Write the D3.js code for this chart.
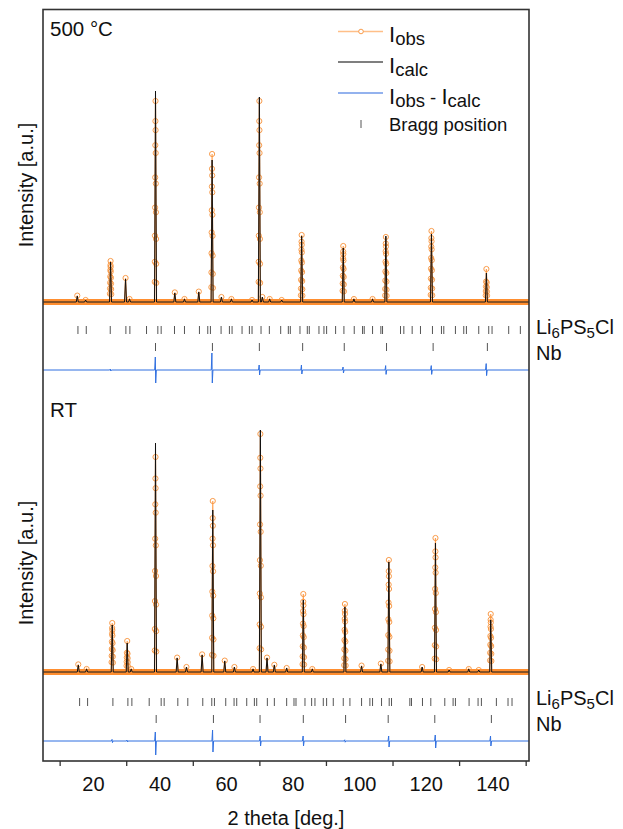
<!DOCTYPE html>
<html>
<head>
<meta http-equiv='Content-Type' content='text/html;charset=utf-8'/>
<title>Rietveld refinement</title>
<script src='https://cdn.jsdelivr.net/npm/d3@7/dist/d3.min.js'></script>
<style>
  body { margin: 0; background: #fff; }
  text { font-family: 'Liberation Sans', Arial, sans-serif; fill: #111; }
</style>
</head>
<body>
<script>
'use strict';

// x axis
const xTicks = [20, 40, 60, 80, 100, 120, 140];
const xMinorTicks = [10, 30, 50, 70, 90, 110, 130, 150];

// 500 °C : peak positions (2 theta), calculated and observed heights (a.u.)
const peaks500 = [15.3, 17.8, 25.3, 29.8, 31.0, 38.8, 44.6, 47.5, 51.8, 55.8, 58.6, 61.6, 67.8, 70.0, 70.9, 73.1, 76.7, 82.7, 95.2, 98.4, 104.0, 108.0, 121.7, 138.2];
const calc500  = [30, 10, 200, 115, 15, 1055, 45, 15, 50, 710, 25, 15, 10, 1025, 25, 15, 10, 330, 270, 15, 15, 330, 340, 145];
const obs500   = [32, 10, 205, 120, 15, 1005, 48, 15, 52, 740, 25, 15, 10, 1005, 25, 15, 10, 335, 280, 15, 15, 325, 355, 165];
const bragg500Li = [15.5, 18.0, 25.2, 29.9, 31.1, 36.1, 39.5, 40.5, 44.5, 47.5, 52.0, 54.5, 55.3, 58.5, 61.0, 61.8, 64.8, 67.0, 67.8, 70.5, 73.0, 76.4, 78.7, 79.3, 82.2, 84.4, 85.0, 87.9, 89.4, 90.2, 92.9, 95.4, 98.5, 101.0, 101.5, 104.0, 106.5, 107.0, 112.4, 113.4, 115.9, 118.4, 122.0, 124.7, 125.4, 128.9, 131.4, 132.2, 135.9, 138.9, 139.9, 144.9, 148.4];
const bragg500Nb = [38.8, 55.9, 70.0, 83.0, 95.5, 108.2, 122.2, 138.5];
const diff500Pos  = [25.3, 38.8, 55.8, 70.0, 82.7, 95.2, 108.0, 121.7, 138.2];
const diff500Up   = [5, 65, 85, 25, 25, 15, 22, 22, 32];
const diff500Down = [5, 65, 65, 25, 20, 15, 22, 22, 28];

// RT
const peaksRT = [15.6, 18.1, 25.8, 30.3, 31.5, 38.8, 45.3, 48.1, 52.8, 56.0, 59.6, 62.5, 68.1, 70.3, 72.3, 74.5, 78.2, 83.2, 85.9, 95.7, 100.7, 106.5, 108.9, 118.9, 122.9, 127.0, 132.9, 135.9, 139.5];
const calcRT  = [35, 15, 235, 145, 15, 1145, 70, 25, 85, 810, 55, 25, 15, 1210, 70, 35, 20, 360, 15, 325, 30, 40, 550, 25, 645, 10, 15, 10, 260];
const obsRT   = [38, 15, 245, 155, 15, 1075, 72, 25, 88, 855, 57, 25, 15, 1190, 72, 36, 20, 390, 15, 340, 32, 42, 560, 25, 670, 10, 15, 10, 290];
const braggRTLi = [16.0, 18.4, 26.0, 30.5, 31.7, 36.9, 40.5, 41.4, 45.5, 48.5, 53.0, 55.7, 56.5, 59.9, 62.4, 63.2, 66.2, 68.5, 69.2, 72.4, 74.5, 78.2, 80.4, 81.0, 83.7, 85.7, 86.7, 89.2, 90.2, 92.2, 95.2, 97.2, 100.7, 103.2, 104.0, 106.7, 109.0, 109.7, 115.2, 115.7, 119.0, 121.5, 125.7, 128.2, 128.9, 133.0, 135.7, 136.7, 141.2, 144.7, 145.9];
const braggRTNb = [39.0, 56.2, 70.2, 83.2, 95.9, 108.7, 122.7, 139.7];
const diffRTPos  = [25.8, 30.3, 38.8, 56.0, 70.3, 83.2, 95.7, 108.9, 122.9, 139.5];
const diffRTUp   = [8, 5, 45, 55, 25, 25, 6, 25, 30, 25];
const diffRTDown = [8, 5, 70, 55, 25, 25, 6, 30, 35, 25];

const legendLabels = [['I', 'obs'], ['I', 'calc'], ['I', 'obs', ' - ', 'I', 'calc'], ['Bragg position']];

const W = 623, H = 829;
const frame = {left: 43, right: 529, top: 9.5, bottom: 761};
const k = 0.2;            // px per intensity unit
const braggLen = 8;
const fs = 20;            // main font size

const svg = d3.select('body').append('svg')
  .attr('width', W).attr('height', H);

const x = d3.scaleLinear().domain([5, 151]).range([frame.left, frame.right]);

const panels = [
  {name: '500 °C', top: frame.top, bottom: 393, base: 302, labelY: 36, peaks: peaks500, calc: calc500, obs: obs500,
   li: bragg500Li, nb: bragg500Nb, dPos: diff500Pos, dUp: diff500Up, dDown: diff500Down,
   liY: 330, nbY: 347, diffY: 370, liTextY: 334, nbTextY: 360, yLabel: 185},
  {name: 'RT', top: 393, bottom: frame.bottom, base: 672, labelY: 417, peaks: peaksRT, calc: calcRT, obs: obsRT,
   li: braggRTLi, nb: braggRTNb, dPos: diffRTPos, dUp: diffRTUp, dDown: diffRTDown,
   liY: 702, nbY: 719, diffY: 741, liTextY: 705, nbTextY: 731, yLabel: 563}
];

const line = d3.line().x(d => x(d[0])).y(d => d[1]);
svg.append('clipPath').attr('id', 'plotclip')
  .append('rect').attr('x', frame.left).attr('y', frame.top)
  .attr('width', frame.right - frame.left).attr('height', frame.bottom - frame.top);

panels.forEach(p => {
  const y = d3.scaleLinear()
    .domain([-(p.bottom - p.base) / k, (p.base - p.top) / k])
    .range([p.bottom, p.top]);
  const g = svg.append('g').attr('clip-path', 'url(#plotclip)');

  // profile points built from the peak list
  function profile(heights, w) {
    const pts = [[5, y(0)]];
    p.peaks.forEach((pos, i) => {
      pts.push([pos - w, y(0)], [pos, y(heights[i])], [pos + w, y(0)]);
    });
    pts.push([151, y(0)]);
    return pts;
  }

  // observed: dense points form an orange band along the background
  g.append('path').attr('d', line([[5, y(0)], [151, y(0)]]))
    .attr('fill', 'none').attr('stroke', '#ff7a0a').attr('stroke-width', 6).attr('opacity', 0.85);
  g.append('path').attr('d', line(profile(p.obs, 0.3)))
    .attr('fill', 'none').attr('stroke', '#ffa050').attr('stroke-width', 1.2);

  // observed markers along each peak flank
  const levels = [1, 0.9, 0.78, 0.62, 0.47, 0.33, 0.2, 0.1];
  const marks = [];
  p.peaks.forEach((pos, i) => {
    const h = p.obs[i];
    levels.forEach((f, j) => {
      if (j > 0 && h * f * k < 6) return;
      if (j > 0 && h * (levels[j - 1] - f) * k < 4) return;
      const dx = (1 - f) * 0.25;
      marks.push([pos - dx, y(h * f)]);
      if (j > 0) marks.push([pos + dx, y(h * f * 0.95)]);
    });
  });
  g.selectAll(null).data(marks).enter().append('circle')
    .attr('cx', d => x(d[0])).attr('cy', d => d[1]).attr('r', 2.6)
    .attr('fill', 'none').attr('stroke', '#f7923a').attr('stroke-width', 0.9);

  // calculated
  g.append('path').attr('d', line(profile(p.calc, 0.3)))
    .attr('fill', 'none').attr('stroke', '#111').attr('stroke-width', 1);

  // Bragg positions
  [[p.li, p.liY], [p.nb, p.nbY]].forEach(([arr, yc]) => {
    g.selectAll(null).data(arr).enter().append('line')
      .attr('x1', d => x(d)).attr('x2', d => x(d))
      .attr('y1', yc - braggLen / 2).attr('y2', yc + braggLen / 2)
      .attr('stroke', '#555').attr('stroke-width', 1);
  });

  // difference curve
  const dp = [[5, p.diffY]];
  p.dPos.forEach((pos, i) => {
    dp.push([pos - 0.25, p.diffY], [pos - 0.06, p.diffY - p.dUp[i] * k],
            [pos + 0.06, p.diffY + p.dDown[i] * k], [pos + 0.25, p.diffY]);
  });
  dp.push([151, p.diffY]);
  g.append('path').attr('d', line(dp))
    .attr('fill', 'none').attr('stroke', '#2f6fe0').attr('stroke-width', 1);

  // texts
  svg.append('text').attr('x', 50).attr('y', p.labelY).attr('font-size', 20.5).text(p.name);
  const li = svg.append('text').attr('x', 536).attr('y', p.liTextY).attr('font-size', fs);
  li.append('tspan').text('Li');
  li.append('tspan').attr('font-size', 15).attr('dy', 4).text('6');
  li.append('tspan').attr('dy', -4).text('PS');
  li.append('tspan').attr('font-size', 15).attr('dy', 4).text('5');
  li.append('tspan').attr('dy', -4).text('Cl');
  svg.append('text').attr('x', 536).attr('y', p.nbTextY).attr('font-size', fs).text('Nb');
  svg.append('text').attr('transform', `translate(33,${p.yLabel}) rotate(-90)`)
    .attr('text-anchor', 'middle').attr('font-size', fs).text('Intensity [a.u.]');
});

// frame
svg.append('rect').attr('x', frame.left).attr('y', frame.top)
  .attr('width', frame.right - frame.left).attr('height', frame.bottom - frame.top)
  .attr('fill', 'none').attr('stroke', '#333').attr('stroke-width', 1.6);

// x axis
const xAxis = svg.append('g').attr('transform', `translate(0,${frame.bottom})`)
  .call(d3.axisBottom(x).tickValues(xTicks).tickSize(0).tickPadding(16));
xAxis.select('.domain').remove();
xAxis.selectAll('text').attr('font-size', fs).attr('font-family', "'Liberation Sans', Arial, sans-serif").attr('fill', '#111');
svg.append('g').attr('transform', `translate(0,${frame.bottom})`)
  .call(d3.axisBottom(x).tickValues(xMinorTicks).tickSize(5).tickFormat(''))
  .call(a => a.select('.domain').remove())
  .selectAll('line').attr('stroke', '#333').attr('stroke-width', 1.3);
svg.append('text').attr('x', 286).attr('y', 825).attr('text-anchor', 'middle')
  .attr('font-size', fs).text('2 theta [deg.]');

// legend
const lg = svg.append('g');
const rowY = [31.5, 62, 93];
const rowTextY = [42, 73, 104, 131];
const rowColor = ['#ffbf88', '#555', '#6f98e8'];
rowY.forEach((ry, i) => {
  lg.append('line').attr('x1', 338).attr('x2', 383).attr('y1', ry).attr('y2', ry)
    .attr('stroke', rowColor[i]).attr('stroke-width', 1.3);
});
lg.append('circle').attr('cx', 361).attr('cy', rowY[0]).attr('r', 2.3)
  .attr('fill', '#fff').attr('stroke', '#f7923a').attr('stroke-width', 0.9);
lg.append('line').attr('x1', 361).attr('x2', 361).attr('y1', 120).attr('y2', 128)
  .attr('stroke', '#555').attr('stroke-width', 1);
legendLabels.forEach((parts, i) => {
  const t = lg.append('text').attr('x', 389).attr('y', rowTextY[i]).attr('font-size', 18.5);
  if (parts.length === 1) { t.text(parts[0]); return; }
  let sub = false;
  parts.forEach(s => {
    if (s === 'I') {
      t.append('tspan').attr('font-size', 22).attr('dy', sub ? -3 : 0).text('I');
      sub = false;
    } else if (s === ' - ') {
      t.append('tspan').attr('dy', -3).text(' - ');
      sub = false;
    } else {
      t.append('tspan').attr('dy', 3).text(s);
      sub = true;
    }
  });
});
</script>
</body>
</html>
